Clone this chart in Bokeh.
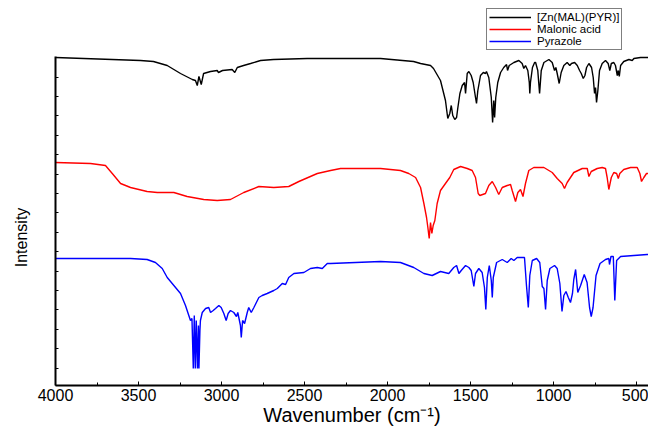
from bokeh.plotting import figure
from bokeh.models import Range1d, FixedTicker, Legend, LegendItem
from bokeh.embed import file_html
from bokeh.resources import INLINE

# ---------------- data ----------------
x_ticks = [4000, 3500, 3000, 2500, 2000, 1500, 1000, 500]
x_minor = [3750, 3250, 2750, 2250, 1750, 1250, 750]
y_tick_step = 19.4

zn_wavenumber = [4000, 3488, 3410, 3327, 3247, 3176, 3157, 3146, 3136, 3122, 3108, 3066, 3026, 3018, 2994,
                 2936, 2920, 2905, 2867, 2825, 2765, 2687, 2484, 2283, 2042, 1843, 1801, 1741, 1723, 1681,
                 1651, 1637, 1625, 1616, 1607, 1595, 1584, 1577, 1564, 1550, 1536, 1530, 1520, 1510, 1496,
                 1484, 1470, 1464, 1456, 1440, 1423, 1410, 1404, 1390, 1375, 1367, 1360, 1355, 1348, 1336,
                 1319, 1300, 1283, 1277, 1267, 1239, 1209, 1189, 1179, 1169, 1155, 1146, 1143, 1139, 1127,
                 1114, 1108, 1095, 1084, 1074, 1058, 1028, 1008, 994, 986, 978, 966, 954, 938, 918,
                 902, 892, 873, 857, 843, 833, 821, 811, 801, 787, 771, 761, 753, 747, 741,
                 733, 723, 707, 687, 671, 661, 652, 637, 627, 616, 610, 604, 596, 577, 546,
                 526, 516, 476, 436, 428]
zn_intensity = [328, 325, 324, 320, 312, 306, 305, 300, 309, 301, 312, 314, 315, 313, 315,
                316, 313, 318, 320, 322, 325, 326, 327, 327, 327, 324, 322, 320, 317, 305,
                285, 267, 272, 280, 270, 266, 268, 277, 292, 300, 303, 292, 312, 314, 310,
                303, 288, 282, 295, 310, 313, 312, 314, 308, 288, 263, 285, 268, 288, 303,
                313, 318, 321, 315, 320, 323, 325, 322, 317, 320, 315, 303, 292, 303, 318,
                323, 323, 315, 292, 315, 323, 326, 323, 315, 318, 312, 302, 313, 320, 323,
                320, 322, 323, 320, 315, 312, 307, 310, 318, 322, 318, 308, 292, 298, 283,
                295, 315, 322, 325, 322, 315, 322, 323, 320, 310, 315, 309, 320, 324, 326,
                325, 327, 328, 328, 328]

mal_wavenumber = [4000, 3789, 3699, 3658, 3608, 3548, 3448, 3387, 3287, 3207, 3107, 3026, 2946, 2866, 2775,
                  2685, 2595, 2534, 2423, 2343, 2283, 2042, 1922, 1872, 1831, 1801, 1781, 1765, 1757, 1749,
                  1741, 1733, 1725, 1715, 1701, 1681, 1651, 1625, 1601, 1560, 1520, 1490, 1470, 1454, 1444,
                  1410, 1390, 1369, 1349, 1330, 1309, 1279, 1259, 1249, 1229, 1215, 1199, 1184, 1169, 1149,
                  1119, 1058, 1008, 978, 948, 934, 918, 878, 827, 797, 787, 773, 737, 707, 687,
                  677, 667, 652, 637, 620, 610, 601, 577, 536, 496, 480, 470, 456, 440, 428]
mal_intensity = [223, 222, 220, 212, 202, 198, 194, 193, 193, 189, 186, 185, 186, 193, 199,
                 198, 199, 204, 212, 215, 217, 217, 215, 212, 208, 198, 182, 168, 158, 147,
                 163, 152, 160, 165, 182, 195, 202, 208, 216, 219, 217, 215, 208, 192, 190,
                 192, 200, 204, 198, 191, 198, 200, 201, 195, 184, 193, 196, 189, 202, 215,
                 218, 218, 213, 207, 202, 197, 203, 213, 217, 217, 209, 214, 217, 218, 217,
                 208, 196, 208, 213, 212, 207, 212, 216, 218, 218, 212, 204, 208, 212, 212]

pyr_wavenumber = [4000, 3548, 3448, 3398, 3357, 3327, 3287, 3247, 3217, 3197, 3187, 3178, 3170, 3164, 3158,
                  3152, 3145, 3139, 3136, 3130, 3127, 3116, 3096, 3077, 3066, 3050, 3036, 3016, 3002, 2986,
                  2972, 2960, 2946, 2926, 2910, 2902, 2886, 2881, 2873, 2861, 2845, 2836, 2821, 2805, 2775,
                  2755, 2725, 2685, 2664, 2634, 2614, 2595, 2564, 2504, 2464, 2423, 2393, 2363, 2343, 2042,
                  1922, 1842, 1781, 1731, 1681, 1631, 1601, 1584, 1570, 1556, 1530, 1510, 1496, 1480, 1470,
                  1450, 1430, 1416, 1408, 1399, 1387, 1375, 1369, 1363, 1343, 1309, 1279, 1255, 1239, 1219,
                  1175, 1163, 1152, 1143, 1128, 1102, 1083, 1068, 1058, 1048, 1038, 1022, 994, 978, 962,
                  949, 938, 925, 911, 898, 886, 878, 867, 854, 837, 815, 798, 783, 773, 762,
                  744, 720, 687, 667, 663, 654, 640, 631, 620, 596, 516, 436, 428]
pyr_intensity = [127, 127, 126, 123, 117, 108, 100, 92, 80, 70, 65, 67, 17, 70, 17,
                 65, 17, 60, 17, 55, 65, 73, 77, 78, 73, 75, 77, 80, 78, 72,
                 65, 72, 75, 73, 69, 73, 60, 48, 65, 62, 73, 78, 73, 78, 88,
                 90, 92, 95, 97, 102, 101, 108, 112, 113, 117, 118, 117, 122, 122, 124,
                 123, 118, 112, 110, 114, 112, 118, 120, 112, 115, 120, 118, 115, 99, 112,
                 117, 113, 98, 76, 108, 120, 105, 88, 108, 123, 126, 123, 127, 125, 128,
                 128, 100, 78, 110, 125, 127, 123, 99, 97, 76, 105, 117, 120, 117, 102,
                 74, 90, 94, 88, 83, 92, 106, 116, 93, 100, 111, 103, 78, 69, 78,
                 110, 122, 126, 127, 121, 129, 129, 85, 125, 129, 130, 131, 131]

series_names = ["[Zn(MAL)(PYR)]", "Malonic acid", "Pyrazole"]
series_colors = ["black", "red", "blue"]

# ---------------- figure ----------------
p = figure(width=648, height=428,
           x_range=Range1d(4000, 428), y_range=Range1d(0, 385),
           output_backend="svg", toolbar_location=None,
           min_border_left=55, min_border_right=0, min_border_top=0, min_border_bottom=43)
p.outline_line_color = None
p.xgrid.visible = False
p.ygrid.visible = False
p.background_fill_color = "white"
p.border_fill_color = "white"

r1 = p.line(zn_wavenumber, zn_intensity, line_color=series_colors[0], line_width=1.4)
r2 = p.line(mal_wavenumber, mal_intensity, line_color=series_colors[1], line_width=1.4)
r3 = p.line(pyr_wavenumber, pyr_intensity, line_color=series_colors[2], line_width=1.4)

FONT = "Liberation Sans"

xa = p.xaxis[0]
xa.ticker = FixedTicker(ticks=x_ticks, minor_ticks=x_minor)
xa.axis_line_color = "black"
xa.axis_line_width = 2
xa.major_tick_in = 4
xa.major_tick_out = 0
xa.minor_tick_in = 3
xa.minor_tick_out = 0
xa.major_tick_line_color = "black"
xa.minor_tick_line_color = "black"
xa.major_label_text_font = FONT
xa.major_label_text_font_size = "16px"
xa.major_label_text_color = "black"
xa.major_label_standoff = 3
xa.axis_label = "Wavenumber (cm\u207b\u00b9)"
xa.axis_label_text_font = FONT
xa.axis_label_text_font_size = "20px"
xa.axis_label_text_font_style = "normal"
xa.axis_label_text_color = "black"
xa.axis_label_standoff = 0

# y axis: unlabelled, only small inward ticks (drawn as minor ticks so no tick labels exist)
y_minor = [17.5 + i * y_tick_step for i in range(17)]
ya = p.yaxis[0]
ya.bounds = (0, 329)
ya.ticker = FixedTicker(ticks=[], minor_ticks=y_minor)
ya.axis_line_color = "black"
ya.axis_line_width = 2
ya.major_tick_in = 0
ya.major_tick_out = 0
ya.minor_tick_in = 3
ya.minor_tick_out = 0
ya.minor_tick_line_color = "black"
ya.major_label_standoff = 0
ya.axis_label = "Intensity" + "\u00a0" * 20
ya.axis_label_text_font = FONT
ya.axis_label_text_font_size = "16px"
ya.axis_label_text_font_style = "normal"
ya.axis_label_text_color = "black"
ya.axis_label_standoff = 26

legend = Legend(items=[LegendItem(label=series_names[0], renderers=[r1]),
                       LegendItem(label=series_names[1], renderers=[r2]),
                       LegendItem(label=series_names[2], renderers=[r3])],
                location=(431, 335))
legend.border_line_color = "black"
legend.border_line_width = 1
legend.background_fill_color = "white"
legend.background_fill_alpha = 1
legend.label_text_font = FONT
legend.label_text_font_size = "11.5px"
legend.label_text_color = "black"
legend.padding = 2
legend.spacing = 0
legend.margin = 0
legend.label_height = 12
legend.glyph_height = 12
legend.glyph_width = 42
legend.label_standoff = 6
p.add_layout(legend, "center")

open("out.html", "w").write(file_html(p, INLINE))
